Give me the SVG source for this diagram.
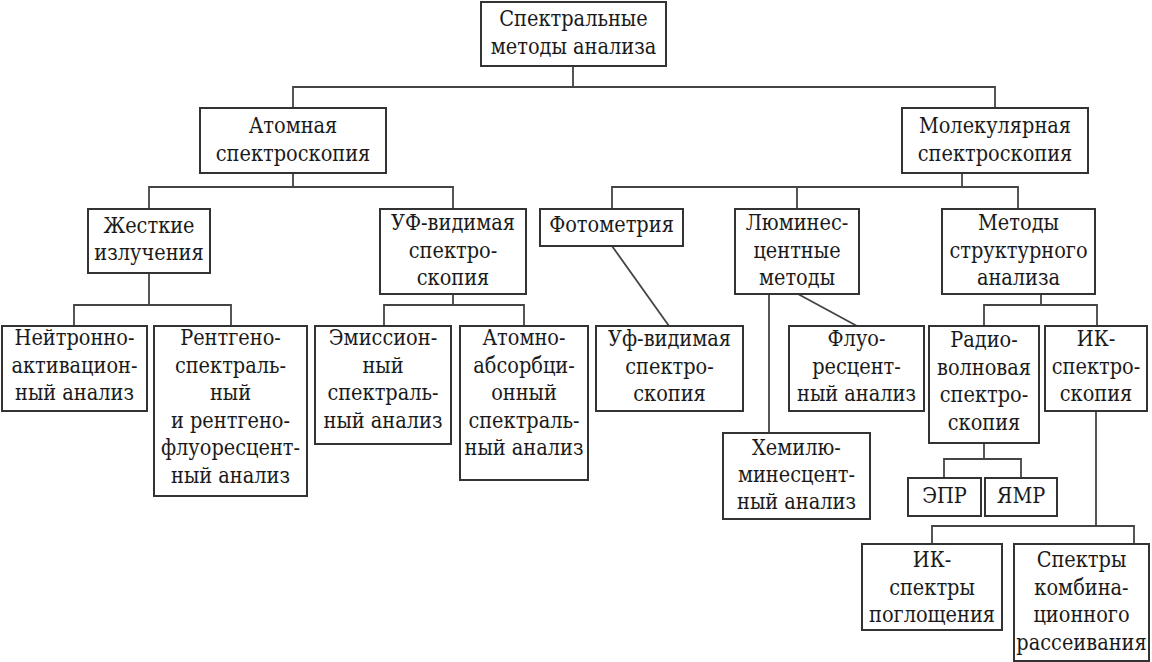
<svg xmlns="http://www.w3.org/2000/svg" width="1152" height="662" viewBox="0 0 1152 662" font-family="DejaVu Serif, serif" font-size="21.5">
<style>
rect{fill:#fff;stroke:#333;stroke-width:2}
.c path{stroke:#444;stroke-width:1.8;fill:none}
text{fill:#1a1a1a;text-anchor:middle;font-family:'DejaVu Serif Condensed','DejaVu Serif',serif;font-stretch:condensed}
</style>
<rect x="0" y="0" width="1152" height="662" style="stroke:none"/>
<g class="c" id="connectors">
<path d="M573,66V87M293,108V87H995V108"/>
<path d="M293,173V187M149,209V187H453V209"/>
<path d="M962,173V187M612,209V187H1018V209M797,187V209"/>
<path d="M149,273V305M74,326V305H231V326"/>
<path d="M453,294V305M384,326V305H524V326"/>
<path d="M612,246L669,326"/>
<path d="M769,294V433M798,294L857,326"/>
<path d="M1041,294V305M984,326V305H1097V326"/>
<path d="M984,443V459M944,478V459H1021V478"/>
<path d="M1096,411V526M932,544V526H1134V544"/>
</g>
<g id="n-top"><rect x="481" y="2" width="185" height="64"/><text><tspan x="573.5" y="26">Спектральные</tspan><tspan x="573.5" y="54">методы анализа</tspan></text></g>
<g id="n-atom"><rect x="200" y="108" width="186" height="65"/><text><tspan x="293" y="133">Атомная</tspan><tspan x="293" y="161">спектроскопия</tspan></text></g>
<g id="n-mol"><rect x="902" y="108" width="186" height="65"/><text><tspan x="995" y="133">Молекулярная</tspan><tspan x="995" y="161">спектроскопия</tspan></text></g>
<g id="n-zhest"><rect x="88" y="209" width="122" height="64"/><text><tspan x="149" y="233">Жесткие</tspan><tspan x="149" y="260">излучения</tspan></text></g>
<g id="n-uf"><rect x="380" y="209" width="146" height="85"/><text><tspan x="453" y="230">УФ-видимая</tspan><tspan x="453" y="258">спектро-</tspan><tspan x="453" y="285">скопия</tspan></text></g>
<g id="n-foto"><rect x="540" y="209" width="143" height="37"/><text><tspan x="611.5" y="232">Фотометрия</tspan></text></g>
<g id="n-lum"><rect x="735" y="209" width="124" height="85"/><text><tspan x="797" y="230">Люминес-</tspan><tspan x="797" y="258">центные</tspan><tspan x="797" y="285">методы</tspan></text></g>
<g id="n-struct"><rect x="942" y="209" width="153" height="85"/><text><tspan x="1018.5" y="230">Методы</tspan><tspan x="1018.5" y="258">структурного</tspan><tspan x="1018.5" y="285">анализа</tspan></text></g>
<g id="n-neutr"><rect x="2" y="326" width="145" height="85"/><text><tspan x="74.5" y="345">Нейтронно-</tspan><tspan x="74.5" y="373">активацион-</tspan><tspan x="74.5" y="400">ный анализ</tspan></text></g>
<g id="n-rentg"><rect x="154" y="326" width="153" height="170"/><text><tspan x="230.5" y="345">Рентгено-</tspan><tspan x="230.5" y="373">спектраль-</tspan><tspan x="230.5" y="400">ный</tspan><tspan x="230.5" y="428">и рентгено-</tspan><tspan x="230.5" y="455">флуоресцент-</tspan><tspan x="230.5" y="483">ный анализ</tspan></text></g>
<g id="n-emis"><rect x="315" y="326" width="136" height="118"/><text><tspan x="383" y="345">Эмиссион-</tspan><tspan x="383" y="373">ный</tspan><tspan x="383" y="400">спектраль-</tspan><tspan x="383" y="428">ный анализ</tspan></text></g>
<g id="n-atomabs"><rect x="460" y="326" width="128" height="154"/><text><tspan x="524" y="345">Атомно-</tspan><tspan x="524" y="373">абсорбци-</tspan><tspan x="524" y="400">онный</tspan><tspan x="524" y="428">спектраль-</tspan><tspan x="524" y="455">ный анализ</tspan></text></g>
<g id="n-ufvid"><rect x="596" y="326" width="147" height="85"/><text><tspan x="669.5" y="346">Уф-видимая</tspan><tspan x="669.5" y="374">спектро-</tspan><tspan x="669.5" y="401">скопия</tspan></text></g>
<g id="n-fluo"><rect x="789" y="326" width="135" height="85"/><text><tspan x="856.5" y="346">Флуо-</tspan><tspan x="856.5" y="374">ресцент-</tspan><tspan x="856.5" y="401">ный анализ</tspan></text></g>
<g id="n-radio"><rect x="929" y="326" width="110" height="117"/><text><tspan x="984" y="347">Радио-</tspan><tspan x="984" y="375">волновая</tspan><tspan x="984" y="402">спектро-</tspan><tspan x="984" y="430">скопия</tspan></text></g>
<g id="n-ik"><rect x="1045" y="326" width="102" height="85"/><text><tspan x="1096" y="346">ИК-</tspan><tspan x="1096" y="374">спектро-</tspan><tspan x="1096" y="401">скопия</tspan></text></g>
<g id="n-hemi"><rect x="723" y="433" width="147" height="86"/><text><tspan x="796.5" y="455">Хемилю-</tspan><tspan x="796.5" y="482">минесцент-</tspan><tspan x="796.5" y="509">ный анализ</tspan></text></g>
<g id="n-epr"><rect x="908" y="478" width="73" height="38"/><text><tspan x="944.5" y="503">ЭПР</tspan></text></g>
<g id="n-yamr"><rect x="985" y="478" width="72" height="38"/><text><tspan x="1021" y="503">ЯМР</tspan></text></g>
<g id="n-ikspec"><rect x="862" y="544" width="140" height="86"/><text><tspan x="932" y="567">ИК-</tspan><tspan x="932" y="595">спектры</tspan><tspan x="932" y="622">поглощения</tspan></text></g>
<g id="n-kombi"><rect x="1014" y="544" width="135" height="117"/><text><tspan x="1081.5" y="567">Спектры</tspan><tspan x="1081.5" y="595">комбина-</tspan><tspan x="1081.5" y="622">ционного</tspan><tspan x="1081.5" y="650">рассеивания</tspan></text></g>
</svg>
